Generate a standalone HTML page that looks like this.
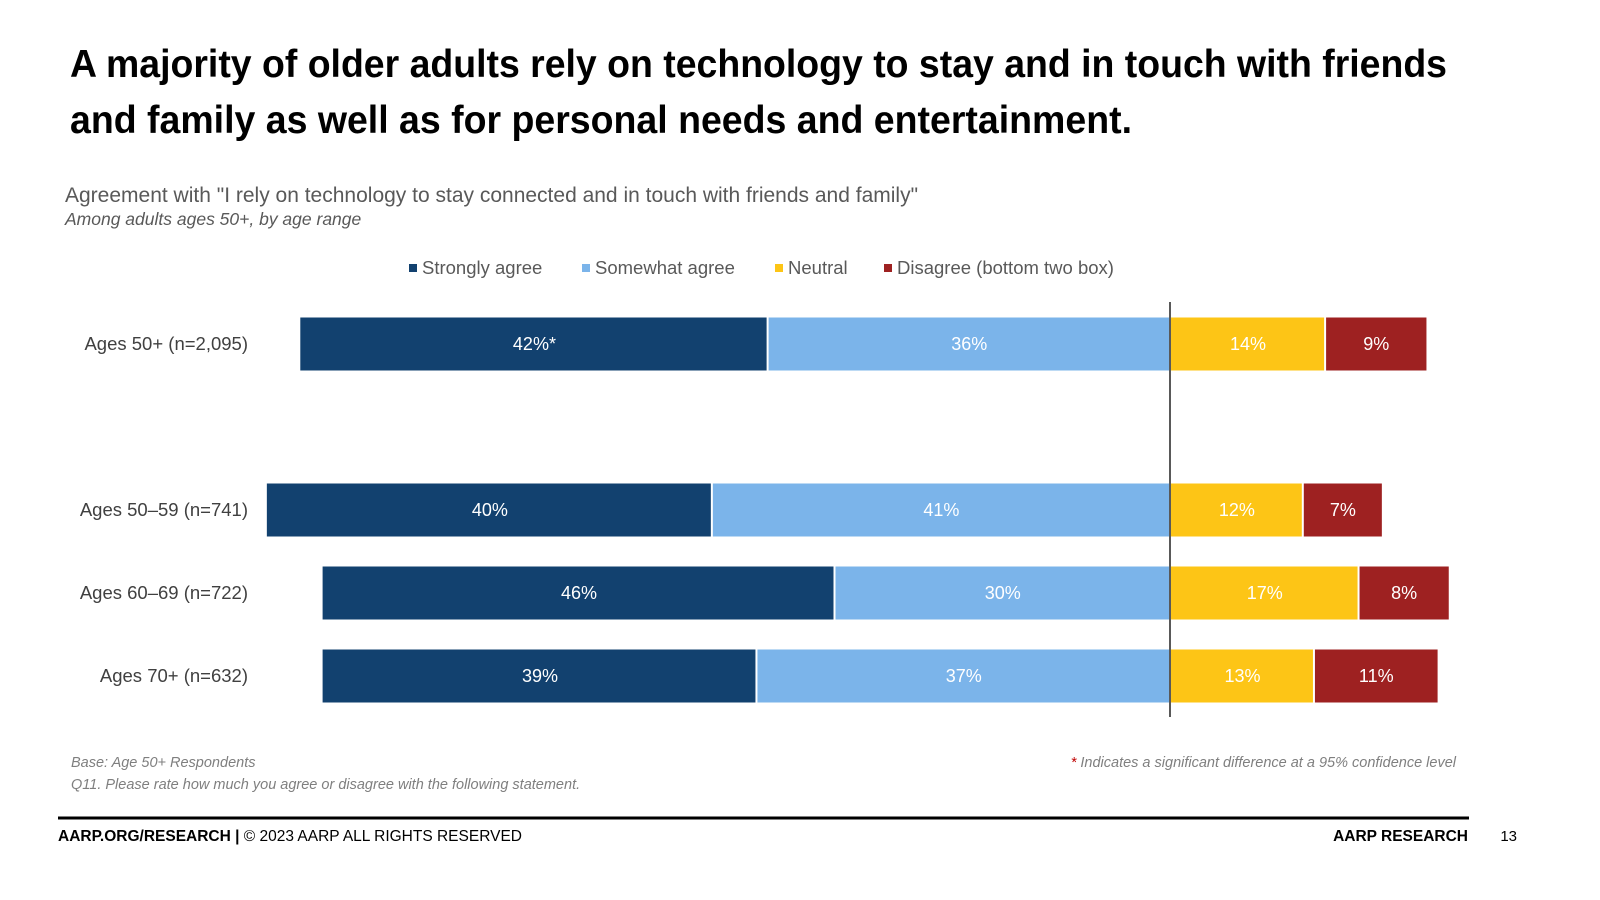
<!DOCTYPE html>
<html><head><meta charset="utf-8"><style>
html,body{margin:0;padding:0;background:#fff;}
svg{display:block;font-family:"Liberation Sans",Arial,sans-serif;}
</style></head><body>
<svg id="chart" width="1600" height="900" viewBox="0 0 1600 900">
<text x="70" y="77" font-size="39" font-weight="bold" fill="#000" textLength="1377" lengthAdjust="spacingAndGlyphs">A majority of older adults rely on technology to stay and in touch with friends</text>
<text x="70" y="133" font-size="39" font-weight="bold" fill="#000" textLength="1062" lengthAdjust="spacingAndGlyphs">and family as well as for personal needs and entertainment.</text>
<text x="65" y="202" font-size="21" fill="#595959">Agreement with "I rely on technology to stay connected and in touch with friends and family"</text>
<text x="65" y="225" font-size="17.5" font-style="italic" fill="#595959">Among adults ages 50+, by age range</text>
<g id="legend"></g>
<g id="bars"></g>
<line x1="1170" y1="302" x2="1170" y2="717" stroke="#595959" stroke-width="2"/>
<text x="71" y="767" font-size="14.5" font-style="italic" fill="#7f7f7f">Base: Age 50+ Respondents</text>
<text x="71" y="789" font-size="14.5" font-style="italic" fill="#7f7f7f">Q11. Please rate how much you agree or disagree with the following statement.</text>
<text x="1456" y="767" font-size="14.5" font-style="italic" fill="#7f7f7f" text-anchor="end"><tspan fill="#c00000">*</tspan> Indicates a significant difference at a 95% confidence level</text>
<line x1="58" y1="818" x2="1469" y2="818" stroke="#000" stroke-width="3"/>
<text x="58" y="841" font-size="15.5" fill="#000"><tspan font-weight="bold">AARP.ORG/RESEARCH |</tspan> © 2023 AARP ALL RIGHTS RESERVED</text>
<text x="1468" y="841" font-size="15.5" font-weight="bold" fill="#000" text-anchor="end">AARP RESEARCH</text>
<text x="1517" y="841" font-size="15" fill="#000" text-anchor="end">13</text>
</svg>
<script>
const categories = ["Ages 50+ (n=2,095)","Ages 50–59 (n=741)","Ages 60–69 (n=722)","Ages 70+ (n=632)"];
const strongly = [42,40,46,39];
const somewhat = [36,41,30,37];
const neutral = [14,12,17,13];
const disagree = [9,7,8,11];
const stronglyLabels = ["42%*","40%","46%","39%"];
const seriesNames = ["Strongly agree","Somewhat agree","Neutral","Disagree (bottom two box)"];
const colors = ["#12416f","#7bb4ea","#fdc516","#9e2121"];
const rowCenters = [344,510,593,676];
const NS="http://www.w3.org/2000/svg";
const center=1170, pxPer=11.15, barH=53;
const x = v => center + v*pxPer;
const bars=document.getElementById('bars');
function mk(tag,attrs,parent){const e=document.createElementNS(NS,tag);for(const k in attrs)e.setAttribute(k,attrs[k]);parent.appendChild(e);return e;}
categories.forEach((c,i)=>{
  const cy=rowCenters[i], y=cy-barH/2;
  const t=mk('text',{x:248,y:cy+6,'font-size':18.5,fill:'#404040','text-anchor':'end'},bars);
  t.textContent=c;
  
  
  const segs=[
    [-(strongly[i]+somewhat[i]),-somewhat[i],colors[0],stronglyLabels[i],'strongly-agree'],
    [-somewhat[i],0,colors[1],somewhat[i]+'%','somewhat-agree'],
    [0,neutral[i],colors[2],neutral[i]+'%','neutral'],
    [neutral[i],neutral[i]+disagree[i],colors[3],disagree[i]+'%','disagree']
  ];
  segs.forEach((s,j)=>{
    const x0=x(s[0]), x1=x(s[1]);
    const l=j===2?x0+1:x0, r=(j===1)?x1-1:x1;
    const rc=mk('rect',{x:l,y:y,width:Math.max(0,r-l-(j===0||j===2?2:0)),height:barH,fill:s[2]},bars);
    
    
    const tx=mk('text',{x:(x0+x1)/2,y:cy+6,'font-size':18,fill:'#fff','text-anchor':'middle'},bars);
    tx.textContent=s[3];
    
    
  });
});
const legend=document.getElementById('legend');
const lx=[409,582,775,884];
seriesNames.forEach((n,i)=>{
  const r=mk('rect',{x:lx[i],y:264,width:8,height:8,fill:colors[i]},legend);
  
  
  const t=mk('text',{x:lx[i]+13,y:274,'font-size':18.5,fill:'#595959'},legend);
  t.textContent=n;
  
  
});
</script>
</body></html>
